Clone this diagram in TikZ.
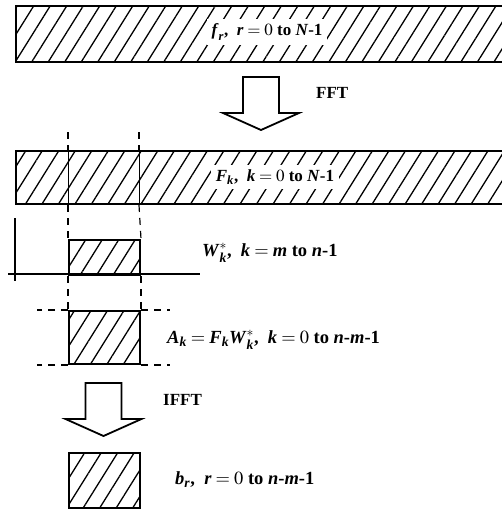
\documentclass[tikz,border=0pt]{standalone}
\usepackage{amsmath}
\usepackage{mathptmx}
\usepackage{fontspec}
\setmainfont{Liberation Serif}
\usetikzlibrary{patterns.meta}
\newcommand{\vb}[1]{\text{\textit{#1}}}

\tikzset{
  hatched/.style={draw, line width=2pt, pattern={Lines[angle=58,distance=14pt,line width=1.3pt]}},
  lbl/.style={fill=white, inner sep=5pt, font=\fontsize{17}{20}\selectfont\bfseries},
  txt/.style={anchor=west, inner sep=0pt, font=\fontsize{18.5}{21}\selectfont\bfseries},
  guide/.style={line width=1.2pt, dash pattern=on 7pt off 6pt},
  pics/blockarrow/.style={code={
    \draw[line width=1.8pt, miter limit=20] (-18,0) -- (-18,36) -- (-38,36) -- (0,53) -- (38,36) -- (18,36) -- (18,0) -- cycle;}}
}

\begin{document}
\begin{tikzpicture}[x=1pt, y=-1pt]
  \useasboundingbox (0,0) rectangle (501,509);

  % bars
  \node[hatched, anchor=north west, minimum width=492, minimum height=56] (fbar) at (15,5) {};
  \node[hatched, anchor=north west, minimum width=492, minimum height=53] (Fbar) at (15,150) {};
  \node[lbl] (flbl) at (267,32) {$\vb{f}_{\vb{r}}$,\ \ $\vb{r} = 0$ to \textit{N}-1};
  \node[lbl] (Flbl) at (275,177) {$\vb{F}_{\vb{k}}$,\ \ $\vb{k} = 0$ to \textit{N}-1};

  % FFT
  \pic at (261,77) {blockarrow};
  \node[txt, font=\fontsize{17}{20}\selectfont\bfseries] (fft) at (316,93) {FFT};

  % window
  \node[hatched, anchor=north west, minimum width=71, minimum height=35] (W) at (68,239) {};
  \node[txt] (Wlbl) at (202,253) {$\vb{W}_{\vb{k}}^{*}$,\ \ $\vb{k} = \vb{m}$ to \textit{n}-1};
  \coordinate (ax0) at (8,274);
  \coordinate (ax1) at (200,274);
  \coordinate (ay0) at (15,218);
  \coordinate (ay1) at (15,281);
  \draw[line width=1.8pt] (ax0) -- (ax1);
  \draw[line width=1.5pt] (ay0) -- (ay1);

  % product
  \node[hatched, anchor=north west, minimum width=71, minimum height=53] (A) at (68,310) {};
  \node[txt] (Albl) at (167,340) {$\vb{A}_{\vb{k}} = \vb{F}_{\vb{k}}\vb{W}_{\vb{k}}^{*}$,\ \ $\vb{k} = 0$ to \textit{n}-\textit{m}-1};

  % guides
  \coordinate (g1) at (68,132);
  \coordinate (g2) at (139,132);
  \draw[guide] (g1) -- (Fbar.north -| g1);
  \draw[guide] (g2) -- (Fbar.north -| g2);
  \draw[line width=1pt] (Fbar.north -| g1) -- (Fbar.south -| g1);
  \draw[line width=1pt] (Fbar.north -| g2) -- (Fbar.south -| g2);
  \draw[guide] (Fbar.south -| g1) -- (W.north west);
  \draw[guide] (Fbar.south -| g2) -- (W.north east);
  \draw[guide] (W.south west) -- (A.north west);
  \draw[guide] (W.south east) -- (A.north east);
  \draw[guide] (A.north west) -- +(-31,0);
  \draw[guide] (A.south west) -- +(-31,0);
  \draw[guide] (A.north east) -- +(29,0);
  \draw[guide] (A.south east) -- +(29,0);

  % IFFT
  \pic at (103.5,383) {blockarrow};
  \node[txt, font=\fontsize{17}{20}\selectfont\bfseries] (ifft) at (163,400) {IFFT};

  % result
  \node[hatched, anchor=north west, minimum width=71, minimum height=55] (b) at (68,452) {};
  \node[txt] (blbl) at (175,480) {$\vb{b}_{\vb{r}}$,\ \ $\vb{r} = 0$ to \textit{n}-\textit{m}-1};
\end{tikzpicture}
\end{document}
